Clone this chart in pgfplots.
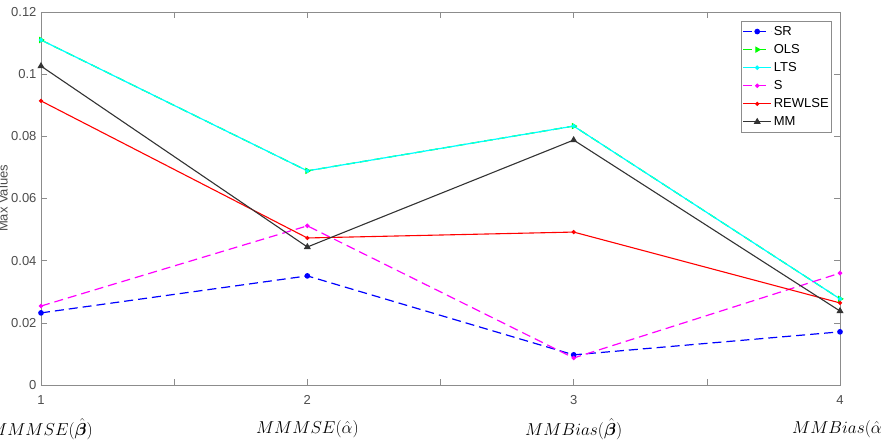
\documentclass[border=0pt]{standalone}
\usepackage{amsmath}
\usepackage{bm}
\usepackage{fontspec}
\setmainfont{Liberation Sans}
\usepackage{pgfplots}
\pgfplotsset{compat=1.18}

\definecolor{axgray}{gray}{0.55}
\definecolor{txtgray}{gray}{0.3}
\definecolor{mblue}{rgb}{0,0,1}
\definecolor{mgreen}{rgb}{0,1,0}
\definecolor{mcyan}{rgb}{0,1,1}
\definecolor{mmagenta}{rgb}{1,0,1}
\definecolor{mred}{rgb}{1,0,0}

\begin{document}
\begin{tikzpicture}
\begin{axis}[
  name=ax,
  scale only axis,
  width=799pt, height=373pt,
  xmin=1, xmax=4, ymin=0, ymax=0.12,
  xtick={1,1.5,...,4},
  xticklabels={1,,2,,3,,4},
  ytick={0,0.02,0.04,0.06,0.08,0.1,0.12},
  yticklabels={0,0.02,0.04,0.06,0.08,0.1,0.12},
  tick align=inside,
  major tick length=6pt,
  axis line style={axgray, line width=0.8pt},
  every tick/.style={axgray, line width=0.6pt},
  tick label style={font=\fontsize{13}{15}\selectfont, text=txtgray},
  xticklabel style={yshift=-7pt},
  yticklabel style={xshift=-1pt},
  ylabel={Max Values},
  every axis y label/.style={at={([xshift=-33pt]axis description cs:0,0.5)}, rotate=90, anchor=south,
    inner sep=0pt, font=\fontsize{13}{15}\selectfont, text=txtgray},
  clip=false,
  legend cell align=left,
  legend style={at={(0.99,0.976)}, anchor=north east,
    draw=axgray, line width=0.6pt, fill=white,
    font=\fontsize{13}{15}\selectfont,
    inner xsep=1pt, inner ysep=3pt, row sep=3.5pt},
  legend image code/.code={%
    \draw[mark repeat=2, mark phase=2] plot coordinates {(0pt,0pt) (14pt,0pt) (28pt,0pt)};},
]
% SR
\addplot[mblue, dash pattern=on 9pt off 5pt, line width=1.2pt, mark=*, mark size=2.2pt, mark options={solid}]
  coordinates {(1,0.0232) (2,0.0351) (3,0.0097) (4,0.0171)};
\addlegendentry{SR}
% OLS (coincides with LTS)
\addplot[mgreen, dash pattern=on 9pt off 5pt, line width=1.2pt, mark=triangle*, mark size=2.6pt, mark options={solid, rotate=-90}]
  coordinates {(1,0.1110) (2,0.0689) (3,0.0833) (4,0.0277)};
\addlegendentry{OLS}
% LTS
\addplot[mcyan, line width=1.2pt, mark=*, mark size=1.6pt]
  coordinates {(1,0.1110) (2,0.0689) (3,0.0833) (4,0.0277)};
\addlegendentry{LTS}
% S
\addplot[mmagenta, dash pattern=on 9pt off 5pt, line width=1.2pt, mark=*, mark size=1.6pt, mark options={solid}]
  coordinates {(1,0.0254) (2,0.0512) (3,0.0087) (4,0.0360)};
\addlegendentry{S}
% REWLSE
\addplot[mred, line width=1.1pt, mark=*, mark size=1.5pt]
  coordinates {(1,0.0914) (2,0.0473) (3,0.0492) (4,0.0264)};
\addlegendentry{REWLSE}
% MM
\addplot[black!80, line width=1.1pt, mark=triangle*, mark size=3pt]
  coordinates {(1,0.1026) (2,0.0444) (3,0.0788) (4,0.0238)};
\addlegendentry{MM}

% criterion names under the tick numbers
\node[font=\fontsize{17}{19}\selectfont] at (axis cs:1,0) [yshift=-44pt] {$MMMSE(\hat{\bm\beta})$};
\node[font=\fontsize{17}{19}\selectfont] at (axis cs:2,0) [yshift=-44pt] {$MMMSE(\hat{\alpha})$};
\node[font=\fontsize{17}{19}\selectfont] at (axis cs:3,0) [yshift=-44pt] {$MMBias(\hat{\bm\beta})$};
\node[font=\fontsize{17}{19}\selectfont] at (axis cs:4,0) [yshift=-44pt] {$MMBias(\hat{\alpha})$};
\end{axis}
\pgfresetboundingbox
\path[use as bounding box] ([shift={(-41pt,-56pt)}]ax.south west) rectangle ([shift={(42pt,12pt)}]ax.north east);
\end{tikzpicture}
\end{document}
